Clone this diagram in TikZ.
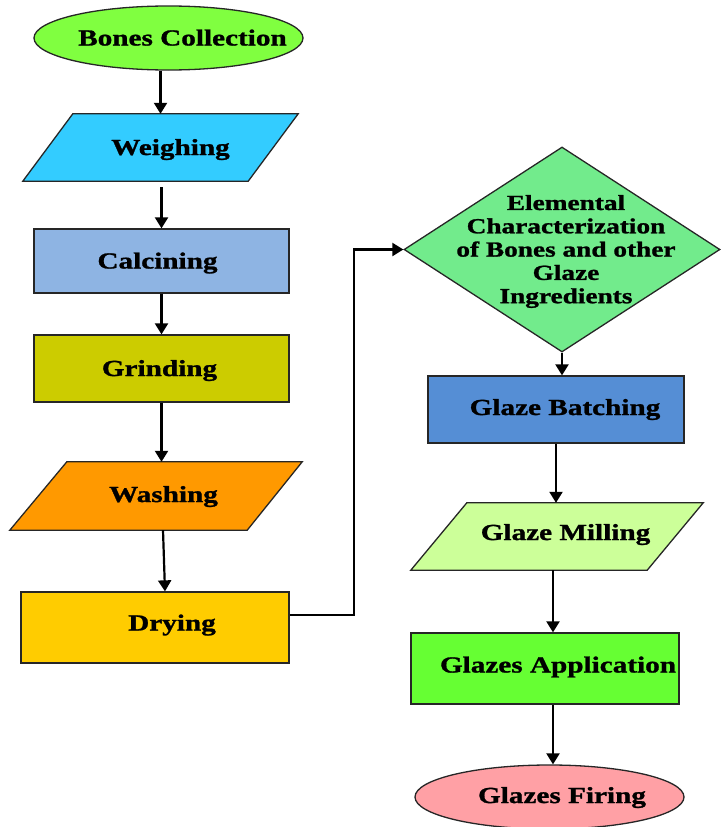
\documentclass[tikz,border=0pt]{standalone}
\usepackage{fontspec}
\setmainfont{Liberation Serif}[FakeStretch=1.27,BoldFeatures={FakeBold=1.2}]
\usetikzlibrary{shapes.geometric,arrows.meta,backgrounds,calc}
\definecolor{cBones}{HTML}{80FF40}
\definecolor{cWeigh}{HTML}{33CCFF}
\definecolor{cCalc}{HTML}{8EB4E3}
\definecolor{cGrind}{HTML}{CCCC00}
\definecolor{cWash}{HTML}{FF9900}
\definecolor{cDry}{HTML}{FFCC00}
\definecolor{cDiam}{HTML}{72EB8C}
\definecolor{cBatch}{HTML}{558ED5}
\definecolor{cMill}{HTML}{CCFF99}
\definecolor{cApp}{HTML}{66FF33}
\definecolor{cFire}{HTML}{FFA0A5}
\begin{document}
\begin{tikzpicture}[x=1pt,y=-1pt,
  outline/.style={draw=black!85, line width=1.3pt},
  rbox/.style={outline, rectangle, inner sep=0pt},
  pbox/.style={rectangle, inner sep=0pt},
  ebox/.style={outline, ellipse, inner sep=0pt},
  lbl/.style={font=\fontsize{23}{23}\selectfont\bfseries, text height=15pt, text depth=0pt, inner sep=0pt},
  dlbl/.style={font=\fontsize{21.5}{23.3}\selectfont\bfseries, align=center, inner sep=0pt},
  arr/.style={line width=2.2pt, -{Triangle[length=11pt,width=13pt]}},
  link/.style={line width=2.2pt}
]
\useasboundingbox (0,0) rectangle (720,827);

% left column
\node[ebox, fill=cBones, minimum width=269, minimum height=64,
      label={[lbl,xshift=14pt]center:Bones Collection}] (bones) at (168.5,38) {};
\node[pbox, minimum width=275, minimum height=67,
      label={[lbl,xshift=10pt]center:Weighing}] (weigh) at (160.5,147.5) {};
\node[rbox, fill=cCalc, minimum width=255, minimum height=64,
      label={[lbl,xshift=-4pt]center:Calcining}] (calc) at (161.5,261) {};
\node[rbox, fill=cGrind, minimum width=255, minimum height=67,
      label={[lbl,xshift=-2pt]center:Grinding}] (grind) at (161.5,368.5) {};
\node[pbox, minimum width=292, minimum height=68,
      label={[lbl,xshift=7.5pt,yshift=1.5pt]center:Washing}] (wash) at (156,496) {};
\node[rbox, fill=cDry, minimum width=268, minimum height=71,
      label={[lbl,xshift=17pt,yshift=4.5pt]center:Drying}] (dry) at (155,627.5) {};

% right column
\node[outline, diamond, fill=cDiam, minimum width=316, minimum height=205, inner sep=0pt,
      label={[dlbl,xshift=4pt,yshift=-2pt]center:{Elemental\\Characterization\\of Bones and other\\Glaze\\Ingredients}}] (diam) at (562,249.5) {};
\node[rbox, fill=cBatch, minimum width=256, minimum height=67,
      label={[lbl,xshift=9pt,yshift=2pt]center:Glaze Batching}] (batch) at (556,409.5) {};
\node[pbox, minimum width=292, minimum height=67,
      label={[lbl,xshift=8.5pt,yshift=4pt]center:Glaze Milling}] (mill) at (557,536.5) {};
\node[rbox, fill=cApp, minimum width=268, minimum height=71,
      label={[lbl,xshift=13pt,yshift=3.5pt]center:Glazes Application}] (app) at (545,668.5) {};
\node[ebox, fill=cFire, minimum width=269, minimum height=64,
      label={[lbl,xshift=12.5pt,yshift=1.5pt]center:Glazes Firing}] (fire) at (549.5,797) {};

% parallelograms behind their labels
\begin{scope}[on background layer]
  \draw[outline, fill=cWeigh] ([xshift=50pt]weigh.north west) -- (weigh.north east)
     -- ([xshift=-50pt]weigh.south east) -- (weigh.south west) -- cycle;
  \draw[outline, fill=cWash] ([xshift=57pt]wash.north west) -- (wash.north east)
     -- ([xshift=-55pt]wash.south east) -- (wash.south west) -- cycle;
  \draw[outline, fill=cMill] ([xshift=56pt]mill.north west) -- (mill.north east)
     -- ([xshift=-56pt]mill.south east) -- (mill.south west) -- cycle;
\end{scope}

% connectors
\draw[arr] (weigh.north |- bones.south) -- (weigh.north);
\draw[arr] ($(calc.north |- weigh.south)+(0,6)$) -- (calc.north);
\draw[arr] (grind.north |- calc.south) -- (grind.north);
\draw[arr] (grind.south) -- (grind.south |- wash.north);
\draw[arr] ($(wash.south)+(7,0)$) -- ($(dry.north)+(10,0)$);
\draw[arr] ($(dry.east)+(0,-12.5)$) -- ++(64,0) |- (diam.west);
\draw[arr] (diam.south) -- (diam.south |- batch.north);
\draw[arr] (batch.south) -- (batch.south |- mill.north);
\draw[arr] ($(mill.south)+(-4,0)$) -- ($(app.north)+(8,0)$);
\draw[arr] ($(app.south)+(8,0)$) -- ($(fire.north)+(3.5,0)$);
\end{tikzpicture}
\end{document}
